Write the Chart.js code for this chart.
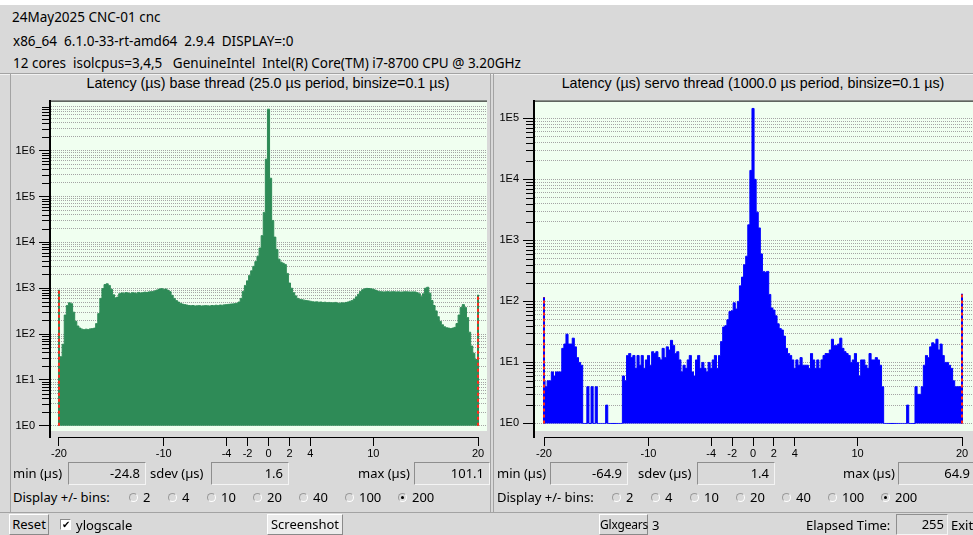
<!DOCTYPE html>
<html>
<head>
<meta charset="utf-8">
<title>Latency histogram</title>
<script src="https://cdn.jsdelivr.net/npm/chart.js@4/dist/chart.umd.min.js"></script>
<style>
  html, body { margin: 0; padding: 0; }
  body {
    width: 973px; height: 535px; overflow: hidden; position: relative;
    background: #d9d9d9; color: #000;
    font-family: "Noto Sans", sans-serif; font-size: 13px;
  }
  .t { position: absolute; white-space: pre; line-height: 18px; }
  .hdr { font-size: 13.5px; }
  .title { position: absolute; font-family: "Liberation Sans", sans-serif; font-size: 14.3px; line-height: 16px; white-space: pre; transform: translateX(-50%); }
  .vline { position: absolute; width: 1px; background: #a3a3a3; }
  .hline { position: absolute; height: 1px; background: #a3a3a3; }
  .entry { position: absolute; box-sizing: border-box; height: 23px; border: 1px solid #8e8e8e; border-right-color: #f4f4f4; border-bottom-color: #f4f4f4; text-align: right; padding-right: 5px; line-height: 20px; }
  .radio { position: absolute; width: 9px; height: 9px; border-radius: 50%; box-sizing: border-box; border: 1px solid #9a9a9a; border-right-color: #fff; border-bottom-color: #fff; background: #d9d9d9; }
  .radio.on::after { content: ""; position: absolute; left: 2px; top: 2px; width: 3px; height: 3px; border-radius: 50%; background: #000; }
  .btn { position: absolute; box-sizing: border-box; border: 1px solid #fff; border-right-color: #8a8a8a; border-bottom-color: #8a8a8a; line-height: 19px; text-align: center; white-space: nowrap; }
  canvas { position: absolute; }
</style>
</head>
<body>

<div style="position:absolute;left:0;top:0;width:973px;height:5px;background:#fff"></div>

<div class="t hdr" style="left:12px;top:8px">24May2025 CNC-01 cnc</div>
<div class="t hdr" style="left:13px;top:32px">x86_64  6.1.0-33-rt-amd64  2.9.4  DISPLAY=:0</div>
<div class="t hdr" style="left:13px;top:54px">12 cores  isolcpus=3,4,5   GenuineIntel  Intel(R) Core(TM) i7-8700 CPU @ 3.20GHz</div>

<div class="hline" style="left:0;top:73px;width:973px"></div>
<div class="hline" style="left:0;top:74px;width:973px;background:#f2f2f2"></div>
<div class="vline" style="left:10px;top:74px;height:438px"></div>
<div class="vline" style="left:490px;top:74px;height:438px"></div>
<div class="vline" style="left:493px;top:74px;height:438px"></div>
<div class="hline" style="left:0;top:512px;width:973px"></div>

<div class="title" style="left:268px;top:75px">Latency (µs) base thread (25.0 µs period, binsize=0.1 µs)</div>
<div class="title" style="left:753px;top:75px">Latency (µs) servo thread (1000.0 µs period, binsize=0.1 µs)</div>

<canvas id="baseChart" width="490" height="380" style="left:0;top:90px;width:490px;height:380px"></canvas>
<canvas id="servoChart" width="490" height="380" style="left:493px;top:90px;width:490px;height:380px"></canvas>

<!-- statistics rows -->
<div class="t" style="left:13px;top:464px">min (µs)</div>
<div class="entry" style="left:68px;top:462px;width:78px">-24.8</div>
<div class="t" style="left:150px;top:464px">sdev (µs)</div>
<div class="entry" style="left:211px;top:462px;width:78px">1.6</div>
<div class="t" style="left:358px;top:464px">max (µs)</div>
<div class="entry" style="left:414px;top:462px;width:76px">101.1</div>

<div class="t" style="left:497px;top:464px">min (µs)</div>
<div class="entry" style="left:550px;top:462px;width:78px">-64.9</div>
<div class="t" style="left:638px;top:464px">sdev (µs)</div>
<div class="entry" style="left:697px;top:462px;width:78px">1.4</div>
<div class="t" style="left:843px;top:464px">max (µs)</div>
<div class="entry" style="left:898px;top:462px;width:78px">64.9</div>

<div class="t" style="left:13px;top:488px">Display +/- bins:</div>
<div class="radio" style="left:129px;top:493px"></div><div class="t" style="left:143px;top:488px">2</div>
<div class="radio" style="left:168px;top:493px"></div><div class="t" style="left:182px;top:488px">4</div>
<div class="radio" style="left:207px;top:493px"></div><div class="t" style="left:221px;top:488px">10</div>
<div class="radio" style="left:253px;top:493px"></div><div class="t" style="left:267px;top:488px">20</div>
<div class="radio" style="left:299px;top:493px"></div><div class="t" style="left:313px;top:488px">40</div>
<div class="radio" style="left:345px;top:493px"></div><div class="t" style="left:359px;top:488px">100</div>
<div class="radio on" style="left:398px;top:493px"></div><div class="t" style="left:412px;top:488px">200</div>

<div class="t" style="left:497px;top:488px">Display +/- bins:</div>
<div class="radio" style="left:612px;top:493px"></div><div class="t" style="left:626px;top:488px">2</div>
<div class="radio" style="left:651px;top:493px"></div><div class="t" style="left:665px;top:488px">4</div>
<div class="radio" style="left:690px;top:493px"></div><div class="t" style="left:704px;top:488px">10</div>
<div class="radio" style="left:736px;top:493px"></div><div class="t" style="left:750px;top:488px">20</div>
<div class="radio" style="left:782px;top:493px"></div><div class="t" style="left:796px;top:488px">40</div>
<div class="radio" style="left:828px;top:493px"></div><div class="t" style="left:842px;top:488px">100</div>
<div class="radio on" style="left:881px;top:493px"></div><div class="t" style="left:895px;top:488px">200</div>

<!-- bottom control bar -->
<div class="btn" style="left:9px;top:514px;width:40px;height:21px">Reset</div>
<div style="position:absolute;left:60px;top:519px;width:11px;height:11px;box-sizing:border-box;border:1px solid #8a8a8a;border-right-color:#fff;border-bottom-color:#fff;background:#fff;font-size:10px;line-height:9px;text-align:center">✔</div>
<div class="t" style="left:76px;top:516px">ylogscale</div>
<div class="btn" style="left:267px;top:514px;width:76px;height:21px;background:#ececec">Screenshot</div>
<div class="btn" style="left:599px;top:514px;width:49px;height:21px;font-size:12px;letter-spacing:-0.2px">Glxgears</div>
<div class="t" style="left:652px;top:516px">3</div>
<div class="t" style="left:806px;top:516px">Elapsed Time:</div>
<div class="entry" style="left:896px;top:514px;width:52px;height:21px;line-height:18px;padding-right:3px">255</div>
<div class="t" style="left:951px;top:516px">Exit</div>

<script>
// Histogram bins are 0.2 µs wide here, centred from -20.0 µs to +20.0 µs.
const binStart = -20;
const binStep = 0.2;

// Base thread counts, 201 bins from -20.0 to +20.0 µs
const baseCounts = [
  28, 32, 60, 260, 420, 480, 460, 300, 190, 150,
  135, 128, 125, 128, 126, 130, 132, 135, 170, 280,
  600, 980, 1200, 1250, 1150, 950, 720, 620, 640, 760,
  790, 780, 800, 790, 770, 800, 790, 780, 810, 790,
  800, 820, 810, 830, 840, 850, 880, 920, 960, 980,
  950, 960, 900, 840, 700, 600, 540, 500, 470, 450,
  440, 430, 420, 415, 420, 410, 415, 420, 410, 415,
  420, 415, 410, 420, 415, 425, 420, 430, 425, 435,
  440, 445, 450, 455, 460, 470, 500, 600, 850, 1150,
  1450, 1900, 2400, 3000, 3800, 5000, 7500, 14000, 45000, 650000,
  8000000, 250000, 30000, 13000, 7000, 4300, 3700, 3500, 3300, 2100,
  1300, 1000, 800, 680, 600, 570, 560, 550, 540, 530,
  520, 510, 500, 505, 495, 500, 490, 495, 485, 490,
  485, 480, 490, 475, 470, 480, 475, 490, 500, 520,
  540, 580, 650, 740, 850, 930, 970, 990, 985, 970,
  950, 910, 870, 850, 840, 830, 835, 840, 830, 835,
  840, 830, 835, 825, 830, 840, 835, 830, 825, 830,
  830, 800, 760, 660, 760, 1000, 1050, 780, 540, 420,
  320, 240, 190, 160, 145, 138, 135, 132, 135, 140,
  170, 260, 380, 440, 380, 230, 110, 55, 38, 28,
  26
];

// Servo thread counts, same bins
const servoCounts = [
  5, 4, 5, 5, 7, 6, 7, 7, 7, 17,
  20, 29, 20, 20, 25, 18, 12, 10, 9, 1,
  1, 4, 1, 4, 1, 4, 1, 1, 1, 1,
  2, 1, 1, 1, 1, 1, 1, 1, 6, 5,
  13, 14, 12, 13, 8, 13, 9, 13, 8, 11,
  13, 9, 15, 14, 15, 12, 11, 17, 12, 18,
  16, 23, 19, 14, 15, 11, 7, 9, 8, 11,
  13, 7, 6, 11, 13, 8, 10, 8, 7, 10,
  8, 11, 13, 8, 13, 22, 38, 40, 50, 68,
  70, 95, 75, 100, 180, 250, 400, 550, 1800, 14000,
  145000, 10000, 2900, 1600, 600, 310, 300, 310, 130, 78,
  72, 58, 43, 36, 34, 27, 17, 14, 13, 11,
  8, 11, 9, 12, 9, 9, 9, 8, 14, 11,
  8, 11, 8, 11, 13, 14, 14, 16, 24, 19,
  19, 20, 25, 17, 15, 14, 13, 10, 11, 14,
  10, 6, 11, 11, 9, 8, 14, 11, 11, 12,
  11, 9, 4, 1, 1, 1, 1, 1, 1, 1,
  1, 1, 1, 1, 2, 1, 1, 1, 4, 3,
  3, 4, 9, 13, 12, 18, 21, 20, 24, 16,
  20, 13, 10, 10, 9, 8, 5, 4, 4, 4,
  1
];

// Out-of-range samples collected in the two end bins
const edgeBins = [-20, 20];
const baseEdgeCounts = [930, 720];
const servoEdgeCounts = [118, 134];

// Labelled positions on the latency axis
const xTickValues = [-20, -10, -4, -2, 0, 2, 4, 10, 20];

const isDecade = v => Math.abs(Math.log10(v) - Math.round(Math.log10(v))) < 1e-9;

// plot background, sunken frame, the -20..20 axis line and short minor ticks
const plotFrame = {
  id: 'plotFrame',
  beforeDraw(chart, args, opts) {
    const { ctx, chartArea: a } = chart;
    ctx.save();
    ctx.fillStyle = '#f0fff0';
    ctx.fillRect(a.left, a.top, a.right - a.left, opts.plotBottom - a.top);
    ctx.fillStyle = '#000';
    ctx.fillRect(a.left, a.top, a.right - a.left, 1);
    ctx.restore();
  },
  afterDraw(chart) {
    const { ctx, chartArea: a, scales: { x, y } } = chart;
    ctx.save();
    ctx.strokeStyle = '#000';
    ctx.lineWidth = 1;
    ctx.beginPath();
    const yl = Math.round(a.bottom) + 0.5;
    ctx.moveTo(Math.round(x.getPixelForValue(xTickValues[0])), yl);
    ctx.lineTo(Math.round(x.getPixelForValue(xTickValues[xTickValues.length - 1])) + 1, yl);
    for (const t of y.ticks) {
      if (isDecade(t.value)) continue;
      const py = Math.round(y.getPixelForValue(t.value)) + 0.5;
      ctx.moveTo(a.left - 1, py);
      ctx.lineTo(a.left - 8, py);
    }
    ctx.stroke();
    ctx.restore();
  }
};

function histogram(id, counts, edgeCounts, colour, opt) {
  const points = counts.map((c, i) => ({ x: +(binStart + i * binStep).toFixed(1), y: c }));
  const edges = [
    { x: edgeBins[0], y: 1 }, { x: edgeBins[0], y: edgeCounts[0] },
    { x: 0, y: null },
    { x: edgeBins[1], y: 1 }, { x: edgeBins[1], y: edgeCounts[1] }
  ];
  const axisFont = { family: 'Liberation Sans', size: 11 };
  return new Chart(document.getElementById(id), {
    type: 'line',
    data: {
      datasets: [
        { data: points, stepped: 'middle', fill: { value: 1 }, backgroundColor: colour,
          borderColor: colour, borderWidth: 1, pointRadius: 0, order: 3 },
        { data: edges, borderColor: colour, borderWidth: 2, pointRadius: 0, fill: false,
          spanGaps: false, order: 2 },
        { data: edges, borderColor: '#ff2a1a', borderWidth: 2, borderDash: [3, 3], pointRadius: 0,
          fill: false, spanGaps: false, order: 1 }
      ]
    },
    options: {
      responsive: false,
      animation: false,
      events: [],
      layout: { padding: opt.padding },
      plugins: {
        legend: { display: false },
        tooltip: { enabled: false },
        plotFrame: { plotBottom: opt.plotBottom }
      },
      scales: {
        x: {
          type: 'linear', min: opt.xMin, max: opt.xMax,
          afterBuildTicks: s => { s.ticks = xTickValues.map(v => ({ value: v })); },
          afterFit: s => { s.height = 25; },
          ticks: { autoSkip: false, maxRotation: 0, color: '#000', font: axisFont, padding: 1,
                   callback: v => String(v) },
          grid: { drawOnChartArea: false, drawTicks: true, tickLength: 9, tickColor: '#000', tickWidth: 1 },
          border: { display: false }
        },
        y: {
          type: 'logarithmic', min: opt.yMin, max: opt.yMax,
          afterBuildTicks: s => {
            const t = [];
            for (let e = 0; Math.pow(10, e) <= opt.tickTop; e++) {
              for (let m = 1; m <= 9; m++) {
                const v = m * Math.pow(10, e);
                if (v <= opt.tickTop) t.push({ value: v });
              }
            }
            s.ticks = t;
          },
          afterFit: s => { s.width = 40; },
          ticks: { autoSkip: false, color: '#000', font: axisFont, padding: 4,
                   callback: v => isDecade(v) ? '1E' + Math.round(Math.log10(v)) : '' },
          grid: { color: '#a4a4a4', lineWidth: 1, tickLength: 11, tickWidth: 1,
                  tickColor: c => (c.tick && isDecade(c.tick.value)) ? '#000' : 'rgba(0,0,0,0)' },
          border: { display: true, color: '#000', width: 2, dash: [1, 1] }
        }
      }
    },
    plugins: [plotFrame]
  });
}

histogram('baseChart', baseCounts, baseEdgeCounts, '#2e8b57', {
  padding: { left: 10, top: 6, right: 3, bottom: 8 },
  xMin: -20.859, xMax: 20.859, yMin: 0.571, yMax: 1.23e7, tickTop: 9e6, plotBottom: 341
});
histogram('servoChart', servoCounts, servoEdgeCounts, '#0000ff', {
  padding: { left: 1, top: 7, right: 3, bottom: 8 },
  xMin: -20.958, xMax: 21.72, yMin: 0.648, yMax: 1.95e5, tickTop: 1e5, plotBottom: 341
});
</script>
</body>
</html>
